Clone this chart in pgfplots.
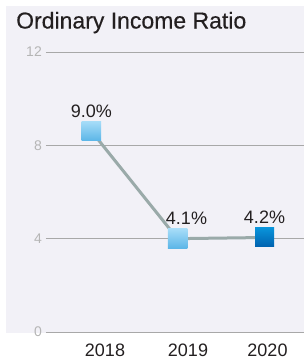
\documentclass[border=0pt]{standalone}
\usepackage{fontspec}
\setmainfont{Liberation Sans}
\newfontfamily\titlefont[FakeBold=0.4]{Liberation Sans}
\usepackage{pgfplots}
\pgfplotsset{compat=1.18}
\definecolor{panel}{HTML}{F2F1F7}
\definecolor{txt}{HTML}{231F20}
\definecolor{tickgray}{HTML}{B5B5B5}
\definecolor{gridgray}{HTML}{A8A8A8}
\definecolor{linegray}{HTML}{9AAAA9}
\definecolor{ltop}{HTML}{A6DCF8}
\definecolor{lbot}{HTML}{5BB5E7}
\definecolor{dtop}{HTML}{0993DA}
\definecolor{dbot}{HTML}{0061AE}
\begin{document}
\begin{tikzpicture}[x=1bp,y=1bp]
\useasboundingbox (0,0) rectangle (304,360);
\fill[panel] (6,27) rectangle (304,354);
\node[anchor=base west, inner sep=0pt, text=txt, font=\titlefont\fontsize{23bp}{27bp}\selectfont] at (16,331.5) {Ordinary Income Ratio};
\begin{axis}[
  at={(46bp,28bp)}, anchor=south west,
  scale only axis, width=258bp, height=280bp,
  xmin=46, xmax=304, ymin=0, ymax=12,
  clip=false,
  axis line style={draw=none},
  major tick length=0pt,
  ytick={0,4,8,12},
  ymajorgrids,
  grid style={color=gridgray, line width=0.9bp},
  xtick={105,188,267.5},
  xticklabels={2018,2019,2020},
  /pgf/number format/assume math mode=true,
  yticklabel style={font=\fontsize{14bp}{16bp}\selectfont, text=tickgray, inner sep=0pt, anchor=east, xshift=-4bp},
  xticklabel style={font=\fontsize{18bp}{20bp}\selectfont, text=txt, inner sep=0pt, anchor=north, yshift=-11.5bp},
]
\addplot[color=linegray, line width=3bp, mark=none] coordinates {(91.3,8.61) (177.5,4.0) (264.5,4.05)};
\addplot[draw=none, mark=none, nodes near coords={\phantom{0}},
  every node near coord/.style={anchor=center, rectangle, inner sep=0pt, minimum size=19.5bp, top color=ltop, bottom color=lbot, draw=none}]
  coordinates {(91.3,8.61) (177.5,4.0)};
\addplot[draw=none, mark=none, nodes near coords={\phantom{0}},
  every node near coord/.style={anchor=center, rectangle, inner sep=0pt, minimum size=19bp, top color=dtop, bottom color=dbot, draw=none}]
  coordinates {(264.5,4.05)};
\addplot[draw=none, mark=none, point meta=explicit symbolic,
  visualization depends on={\thisrow{dx} \as \dx},
  nodes near coords,
  every node near coord/.style={anchor=south, inner sep=0pt, yshift=13.5bp, xshift=\dx bp, text=txt, font=\fontsize{18bp}{20bp}\selectfont}]
  table[meta=lab] {
x y lab dx
91.3 8.61 9.0\% 0
177.5 4.0 4.1\% 9
264.5 4.05 4.2\% 0
};
\end{axis}
\end{tikzpicture}
\end{document}
